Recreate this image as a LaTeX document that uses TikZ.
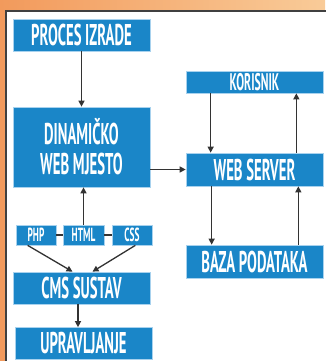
\documentclass[tikz,border=0pt]{standalone}
\usepackage{fontspec}
\setmainfont{PT Sans}[FakeStretch=0.49]
\usetikzlibrary{arrows.meta}
\definecolor{boxblue}{HTML}{1A86C8}
\definecolor{boxedge}{HTML}{A8D2EE}
\definecolor{orL}{HTML}{F29A5C}
\definecolor{orR}{HTML}{F9CB98}
\definecolor{arrc}{HTML}{333333}
\tikzset{
  bx/.style={rectangle, fill=boxblue, draw=boxedge, line width=0.7pt, text=white,
    inner sep=0pt, align=center, font=\bfseries\fontsize{30}{30}\selectfont},
  small/.style={bx, font=\bfseries\fontsize{19}{19}\selectfont},
  arr/.style={draw=arrc, line width=1.3pt, -{Triangle[width=6pt,length=6pt]}},
  ln/.style={draw=arrc, line width=1.3pt}
}
\begin{document}
\begin{tikzpicture}[x=1pt,y=-1pt]
\useasboundingbox (0,0) rectangle (325,361);
\shade[left color=orL, right color=orR] (0,0) rectangle (325,361);
\fill[white] (6,11) rectangle (330,370);
\draw[draw=black!75, line width=1.5pt] (330,11) -- (6,11) -- (6,370);

\node[bx, minimum width=137pt, minimum height=32pt] (proc) at (81.5,35) {PROCES IZRADE};
\node[bx, minimum width=137pt, minimum height=22pt, font=\bfseries\fontsize{24}{24}\selectfont] (kor) at (254.5,82) {KORISNIK};
\node[bx, minimum width=137pt, minimum height=80pt] (din) at (81.5,147) {DINAMIČKO\\WEB MJESTO};
\node[bx, minimum width=137pt, minimum height=33pt] (ws) at (254.5,169.5) {WEB SERVER};
\node[bx, minimum width=137pt, minimum height=33pt] (baza) at (254.5,261.5) {BAZA PODATAKA};
\node[small, minimum width=40pt, minimum height=20pt] (php) at (36,235) {PHP};
\node[small, minimum width=41pt, minimum height=20pt] (html) at (83.5,235) {HTML};
\node[small, minimum width=40pt, minimum height=20pt] (css) at (132,235) {CSS};
\node[bx, minimum width=137pt, minimum height=32pt] (cms) at (81.5,288) {CMS SUSTAV};
\node[bx, minimum width=137pt, minimum height=32pt] (upr) at (83.5,343.5) {\raisebox{2pt}{UPRAVLJANJE}};

\draw[arr] (proc) -- (din);
\draw[arr] ([xshift=25pt]kor.south west) -- ([xshift=25pt]kor.south west |- ws.north);
\draw[arr] ([xshift=-27pt]ws.north east) -- ([xshift=-27pt]ws.north east |- kor.south);
\draw[arr] ([xshift=26pt]ws.south west) -- ([xshift=26pt]ws.south west |- baza.north);
\draw[arr] ([xshift=-25pt]baza.north east) -- ([xshift=-25pt]baza.north east |- ws.south);
\draw[arr] (din.east |- ws.west) -- (ws.west);
\draw[arr] (html.north) -- (html.north |- din.south);
\draw[ln] (php) -- (html);
\draw[ln] (html) -- (css);
\draw[arr] ([xshift=12pt]php.south west) -- ([xshift=-11pt]cms.north -| html.south);
\draw[arr] ([xshift=-17pt]css.south east) -- ([xshift=9pt]cms.north -| html.south);
\draw[arr] (cms.south -| 78,0) -- (upr.north -| 78,0);
\end{tikzpicture}
\end{document}
